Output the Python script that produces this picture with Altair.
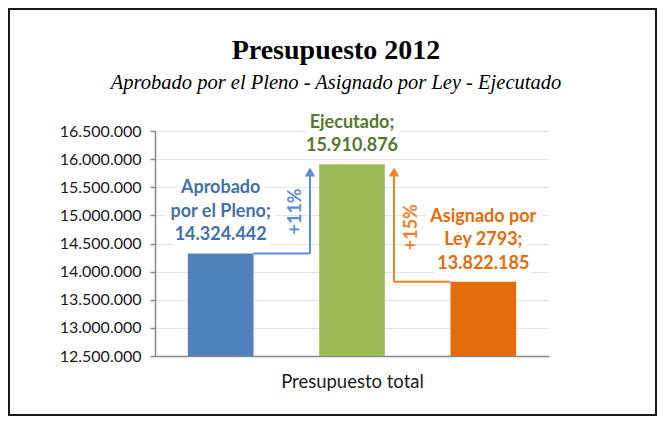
import altair as alt
import pandas as pd

# ---- data ----
categories = ["Aprobado por el Pleno", "Ejecutado", "Asignado por Ley 2793"]
values = [14324442, 15910876, 13822185]
bar_colors = ["#4f81bd", "#9bbb59", "#e46c0a"]
label_texts = ["Aprobado\npor el Pleno;\n14.324.442", "Ejecutado;\n15.910.876", "Asignado por\nLey 2793;\n13.822.185"]
label_lines = [3, 2, 3]
label_colors = ["#4470a8", "#5a7530", "#e46c0a"]
label_pos = [0.5, 1.5, 2.5]
y_ticks = [12500000, 13000000, 13500000, 14000000, 14500000, 15000000, 15500000, 16000000, 16500000]
baseline_value = 12500000

pct_texts = ["+11%", "+15%"]
pct_x = [1.075, 1.96]
pct_y = [15070000, 14790000]
arrow_start_x = [0.75, 2.25]
arrow_x = [1.18, 1.82]
arrow_from = [14324442, 13822185]
arrow_tip = [15771000, 15771000]
arrow_colors = ["#5b8fd3", "#f08126"]

W, H = 394, 225
PAD = {"left": 147, "top": 123, "right": 108, "bottom": 60}
LH = 23.5

bars_df = pd.DataFrame({
    "cat": categories, "value": values, "base": [baseline_value] * 3,
    "color": bar_colors, "label": label_texts, "nl": label_lines,
    "lcolor": label_colors, "pos": label_pos,
})
arrows_df = pd.DataFrame({
    "pct": pct_texts, "px": pct_x, "py": pct_y, "xs": arrow_start_x, "xv": arrow_x,
    "yf": arrow_from, "yt": arrow_tip, "color": arrow_colors,
})

yscale = alt.Scale(domain=[y_ticks[0], y_ticks[-1]], zero=False, nice=False)
xq = alt.Scale(domain=[0, 3], zero=False, nice=False)
yaxis = alt.Axis(values=y_ticks, title=None,
                 labelExpr="join(split(format(datum.value, ',d'), ','), '.')",
                 labelFont="Lato", labelFontSize=16, labelColor="#1a1a1a",
                 labelOverlap=False,
                 labelPadding=9, tickSize=5, tickColor="#898989", tickWidth=1.5,
                 domainColor="#898989", domainWidth=1.5,
                 grid=True, gridColor="#dce5f1", gridWidth=1)


def Y(field):
    return alt.Y(field, scale=yscale, axis=yaxis, title=None)


frame = alt.Chart(pd.DataFrame({"a": [0]})).mark_rect(
    fillOpacity=0, stroke="#1a1a1a", strokeWidth=2
).encode(
    x=alt.value(-PAD["left"] + 1), x2=alt.value(W + PAD["right"] - 1),
    y=alt.value(-PAD["top"] + 1), y2=alt.value(H + PAD["bottom"] - 1),
)

bars = alt.Chart(bars_df).mark_bar().encode(
    x=alt.X("cat:N", sort=categories,
            scale=alt.Scale(paddingInner=0.5, paddingOuter=0.25),
            axis=alt.Axis(labels=False, ticks=False, domainColor="#898989", domainWidth=1.5,
                          title="Presupuesto total", titleFont="Lato", titleFontSize=18.5,
                          titleFontWeight="normal", titleColor="#1a1a1a", titlePadding=16,
                          grid=False)),
    y=Y("value:Q"),
    y2="base:Q",
    color=alt.Color("color:N", scale=None),
)


def label_layer(n, halo=False):
    props = dict(font="Lato", fontSize=18, fontWeight="bold", lineBreak="\n", lineHeight=LH,
                 baseline="bottom", align="center", dy=-9 - (n - 1) * LH)
    if halo:
        props.update(stroke="white", strokeWidth=12, strokeJoin="round", fill="white")
    enc = dict(
        x=alt.X("pos:Q", scale=xq, axis=None),
        y=Y("value:Q"),
        text="label:N",
    )
    if not halo:
        enc["color"] = alt.Color("lcolor:N", scale=None)
    return alt.Chart(bars_df).transform_filter(alt.datum.nl == n).mark_text(**props).encode(**enc)


hseg = alt.Chart(arrows_df).mark_rule(strokeWidth=2).encode(
    x=alt.X("xs:Q", scale=xq, axis=None), x2="xv:Q",
    y=Y("yf:Q"), color=alt.Color("color:N", scale=None),
)
vseg = alt.Chart(arrows_df).mark_rule(strokeWidth=2).encode(
    x=alt.X("xv:Q", scale=xq, axis=None),
    y=Y("yf:Q"), y2="yt:Q", color=alt.Color("color:N", scale=None),
)
heads = alt.Chart(arrows_df).mark_point(shape="triangle-up", filled=True, opacity=1, size=110).encode(
    x=alt.X("xv:Q", scale=xq, axis=None),
    y=Y("yt:Q"), color=alt.Color("color:N", scale=None),
)
pcts = alt.Chart(arrows_df).mark_text(
    font="Lato", fontSize=18, fontWeight="bold", angle=270, baseline="middle", align="center",
).encode(
    x=alt.X("px:Q", scale=xq, axis=None),
    y=Y("py:Q"), text="pct:N", color=alt.Color("color:N", scale=None),
)

annot = alt.layer(label_layer(2, True), label_layer(3, True),
                  label_layer(2), label_layer(3), hseg, vseg, heads, pcts)

chart = alt.layer(frame, bars, annot).resolve_scale(x="independent").properties(
    width=W, height=H,
    padding=PAD,
    background="white",
    autosize=alt.AutoSizeParams(type="none"),
    title=alt.Title(
        "Presupuesto 2012",
        subtitle="Aprobado por el Pleno - Asignado por Ley - Ejecutado",
        font="Liberation Serif", fontSize=28, fontWeight="bold", color="#000000",
        subtitleFont="Liberation Serif", subtitleFontSize=20.5, subtitleFontStyle="italic",
        subtitleColor="#000000", subtitlePadding=8,
        anchor="middle", dx=-16, offset=-85,
    ),
).configure_view(stroke=None)

chart.save("out.html", embed_options={"renderer": "svg", "actions": False})
